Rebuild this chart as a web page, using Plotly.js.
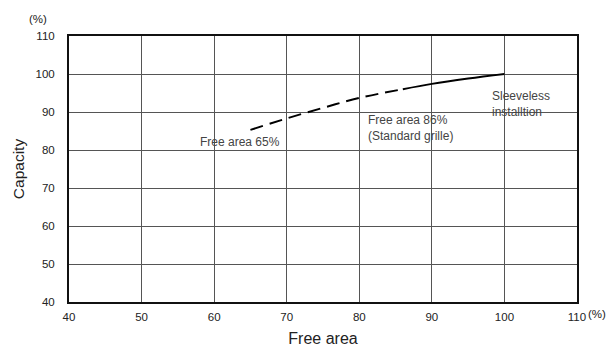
<!DOCTYPE html>
<html><head><meta charset="utf-8">
<script src="https://cdn.plot.ly/plotly-3.0.1.min.js"></script>
<style>html,body{margin:0;padding:0;background:#fff}#c{width:607px;height:347px}</style>
</head><body><div id="c"></div>
<script>
const dashedX = [65, 70, 75, 80, 86];
const dashedY = [85.3, 88.3, 91.1, 93.7, 96.0];
const solidX = [86, 90, 95, 100];
const solidY = [96.0, 97.4, 98.8, 100];
const xTicks = [40, 50, 60, 70, 80, 90, 100, 110];
const yTicks = [40, 50, 60, 70, 80, 90, 100, 110];
const notes = [
  {x: 57.9, y: 84.2, text: "Free area 65%"},
  {x: 81.0, y: 90.0, text: "Free area 86%<br>(Standard grille)"},
  {x: 98.2, y: 96.2, text: "Sleeveless<br>installtion"}
];
const font = "Liberation Sans, Arial, sans-serif";
const traces = [
  {x: dashedX, y: dashedY, mode: "lines", line: {color: "#000", width: 2, dash: "13px,7px", shape: "spline"}, hoverinfo: "skip"},
  {x: solidX, y: solidY, mode: "lines", line: {color: "#000", width: 2, shape: "spline"}, hoverinfo: "skip"}
];
const annotations = notes.map(n => ({x: n.x, y: n.y, xref: "x", yref: "y", text: n.text, showarrow: false,
  xanchor: "left", yanchor: "top", align: "left", borderpad: 0, font: {family: font, size: 12, color: "#444"}}));
annotations.push({xref: "paper", yref: "paper", x: -0.04, y: 1.035, xanchor: "right", yanchor: "bottom", text: "(%)", showarrow: false, font: {family: font, size: 11.5, color: "#222"}});
annotations.push({xref: "paper", yref: "paper", x: 1.018, y: -0.015, xanchor: "left", yanchor: "top", text: "(%)", showarrow: false, font: {family: font, size: 11.5, color: "#222"}});
const layout = {
  width: 607, height: 347,
  margin: {l: 69, r: 30, t: 36, b: 45},
  paper_bgcolor: "#fff", plot_bgcolor: "#fff",
  showlegend: false,
  font: {family: font, color: "#222", size: 12},
  xaxis: {range: [40, 110], tickvals: xTicks, ticktext: xTicks.map(String), showgrid: true, gridcolor: "#555", gridwidth: 1,
    zeroline: false, showline: true, linecolor: "#111", linewidth: 2, mirror: true,
    ticks: "outside", ticklen: 3, tickcolor: "rgba(0,0,0,0)", tickfont: {size: 11.5},
    title: {text: "Free area", font: {size: 16, color: "#222"}, standoff: 12}},
  yaxis: {range: [40, 110], tickvals: yTicks, ticktext: yTicks.map(String), showgrid: true, gridcolor: "#555", gridwidth: 1,
    zeroline: false, showline: true, linecolor: "#111", linewidth: 2, mirror: true,
    ticks: "outside", ticklen: 10, tickcolor: "rgba(0,0,0,0)", tickfont: {size: 11.5},
    title: {text: "Capacity", font: {size: 15.5, color: "#222"}, standoff: 7}},
  annotations: annotations
};
Plotly.newPlot("c", traces, layout, {staticPlot: true, displayModeBar: false});
</script></body></html>
